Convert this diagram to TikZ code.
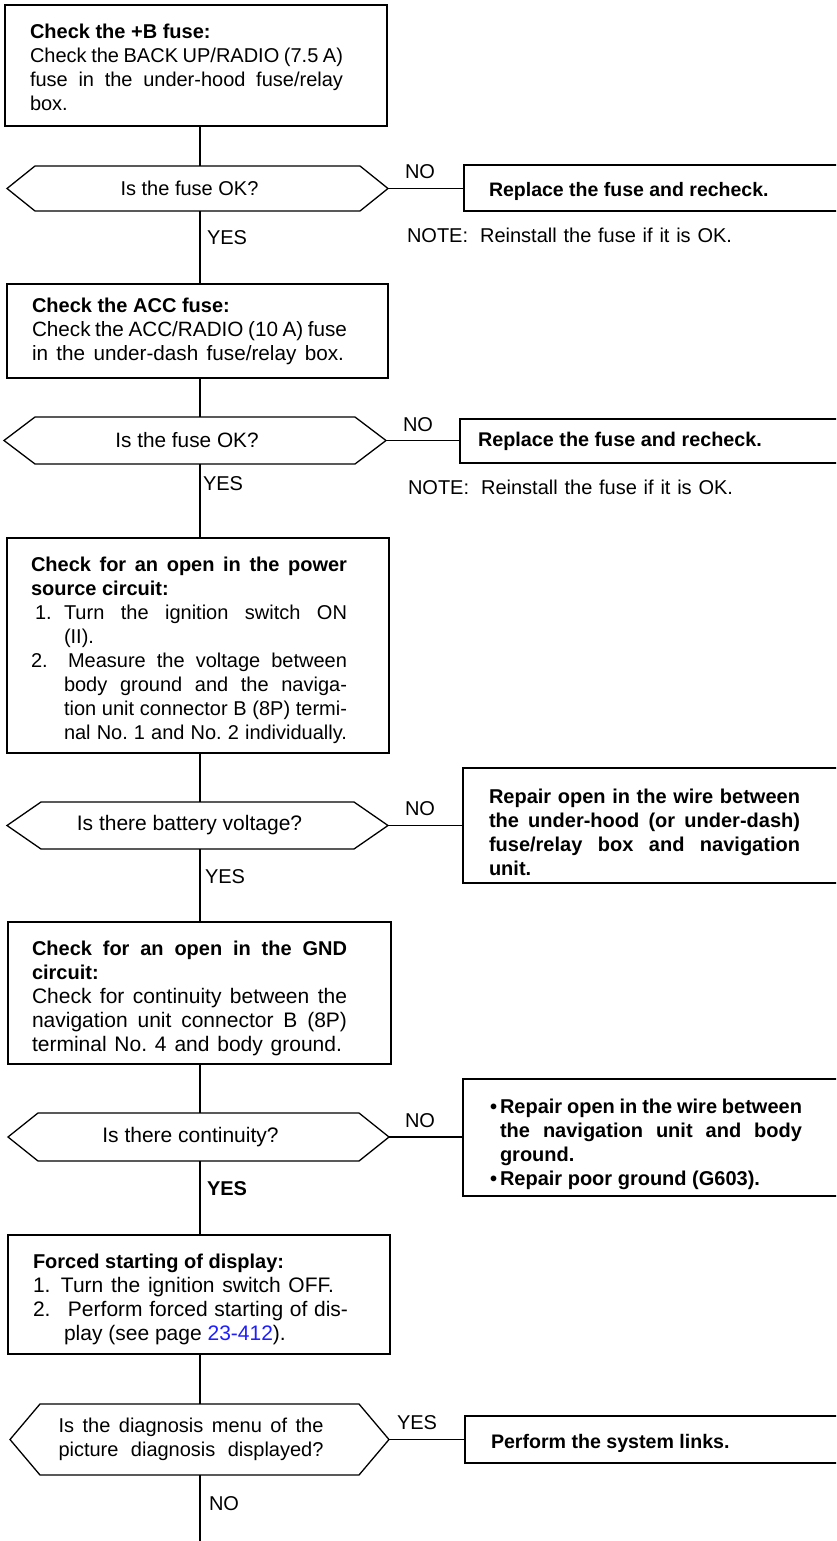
\documentclass[tikz,border=0pt]{standalone}
\usepackage{fontspec}
\setmainfont{Liberation Sans}
\usetikzlibrary{calc}
\setlength{\parindent}{0pt}
\frenchspacing
\definecolor{linkblue}{RGB}{30,30,255}
\newcommand\jl[2]{{\spaceskip=0pt\xspaceskip=0pt\makebox[#1][s]{#2}}}
\newcommand\hd[1]{{\fontsize{20}{24}\selectfont\bfseries #1}}
\newcommand\lift[1]{\rule{0pt}{#1}}
\newcommand\hexdraw[2]{\draw[outline] (#1.west) -- ([xshift=#2]#1.north west) -- ([xshift=-#2]#1.north east) -- (#1.east) -- ([xshift=-#2]#1.south east) -- ([xshift=#2]#1.south west) -- cycle;}
\begin{document}
\begin{tikzpicture}[x=1pt,y=-1pt,
  every node/.style={font=\fontsize{20}{24}\selectfont, inner sep=0pt, outer sep=0pt},
  fsz/.style={font=\fontsize{#1}{24}\selectfont},
  outline/.style={line width=1.3pt, line join=miter},
  conn/.style={line width=1.2pt},
  stepbox/.style={draw, line width=1.3pt, anchor=north west, align=flush left},
  rbox/.style={stepbox, font=\fontsize{20}{24}\selectfont\bfseries},
  decision/.style={anchor=north west, align=center},
  lbl/.style={anchor=west},
]
\useasboundingbox (0,0) rectangle (836,1541);
\fill[white] (0,0) rectangle (836,1541);
\clip (0,0) rectangle (836,1541);

% ---------- left column boxes ----------
\node[stepbox, text width=332pt, inner xsep=25pt, minimum height=121pt] (B1) at (5,5)
 {\lift{19pt}\hd{Check the +B fuse:}\\
  \jl{313pt}{Check the BACK UP/RADIO (7.5 A)}\\
  \jl{313pt}{fuse in the under-hood fuse/relay}\\
  box.};

\node[decision, minimum width=381pt, minimum height=45pt] (D1) at (7,166)
 {Is the fuse OK?\hspace*{16pt}};
\hexdraw{D1}{28pt}

\node[stepbox, fsz=20.7, text width=331pt, inner xsep=25pt, minimum height=94pt] (B2) at (7,284)
 {\hd{Check the ACC fuse:}\\
  \jl{315pt}{Check the ACC/RADIO (10 A) fuse}\\
  \jl{312pt}{in the under-dash fuse/relay box.}};

\node[decision, fsz=20.8, minimum width=382pt, minimum height=47pt] (D2) at (4,417)
 {Is the fuse OK?\hspace*{16pt}};
\hexdraw{D2}{31pt}

\node[stepbox, text width=334pt, inner xsep=24pt, minimum height=215pt] (B3) at (7,538)
 {\lift{25pt}\jl{316pt}{\textbf{Check for an open in the power}}\\
  \textbf{source circuit:}\\
  \makebox[33pt][l]{\hspace*{4pt}1.}\jl{283pt}{Turn the ignition switch ON}\\
  \hspace*{33pt}(II).\\
  \makebox[37pt][l]{2.}\jl{279pt}{Measure the voltage between}\\
  \hspace*{33pt}\jl{283pt}{body ground and the naviga-}\\
  \hspace*{33pt}\jl{283pt}{tion unit connector B (8P) termi-}\\
  \hspace*{33pt}\jl{283pt}{nal No. 1 and No. 2 individually.}};

\node[decision, fsz=21, minimum width=381pt, minimum height=47pt] (D3) at (7,802)
 {Is there battery voltage?\hspace*{16pt}};
\hexdraw{D3}{34pt}

\node[stepbox, fsz=21, text width=335pt, inner xsep=24pt, minimum height=142pt] (B4) at (8,922)
 {\lift{26pt}\jl{315pt}{\hd{Check for an open in the GND}}\\
  \hd{circuit:}\\
  \jl{315pt}{Check for continuity between the}\\
  \jl{315pt}{navigation unit connector B (8P)}\\
  \jl{310pt}{terminal No. 4 and body ground.}};

\node[decision, fsz=21, minimum width=381pt, minimum height=48pt] (D4) at (8,1113)
 {Is there continuity?\hspace*{16pt}};
\hexdraw{D4}{30pt}

\node[stepbox, fsz=21, text width=332pt, inner xsep=25pt, minimum height=119pt] (B5) at (8,1235)
 {\lift{25pt}\hd{Forced starting of display:}\\
  \makebox[28pt][l]{1.}\jl{273pt}{Turn the ignition switch OFF.}\\
  \makebox[35pt][l]{2.}\jl{280pt}{Perform forced starting of dis-}\\
  \hspace*{31pt}play (see page \textcolor{linkblue}{23-412}).};

\node[decision, minimum width=379pt, minimum height=71pt] (D5) at (10,1404)
 {\jl{265pt}{Is the diagnosis menu of the}\hspace*{17pt}\\
  \jl{265pt}{picture diagnosis displayed?}\hspace*{17pt}};
\hexdraw{D5}{30pt}

% ---------- right column boxes ----------
\node[rbox, font=\fontsize{19.5}{24}\selectfont\bfseries, text width=370pt, inner xsep=25pt, minimum height=46pt] (R1) at (464,165)
 {\lift{21pt}Replace the fuse and recheck.};
\node[rbox, font=\fontsize{19.8}{24}\selectfont\bfseries, text width=384pt, inner xsep=18pt, minimum height=44pt] (R2) at (460,419)
 {Replace the fuse and recheck.};
\node[rbox, text width=368pt, inner xsep=26pt, minimum height=115pt] (R3) at (463,768)
 {\lift{29pt}\jl{311pt}{Repair open in the wire between}\\
  \jl{311pt}{the under-hood (or under-dash)}\\
  \jl{311pt}{fuse/relay box and navigation}\\
  unit.};
\node[rbox, text width=346pt, inner xsep=37pt, minimum height=117pt] (R4) at (463,1079)
 {\lift{28pt}\mbox{\llap{\textbullet\hspace{3pt}}\jl{302pt}{Repair open in the wire between}}\\
  \jl{302pt}{the navigation unit and body}\\
  ground.\\
  \mbox{\llap{\textbullet\hspace{3pt}}Repair poor ground (G603).}};
\node[rbox, font=\fontsize{19.6}{24}\selectfont\bfseries, text width=368pt, inner xsep=26pt, minimum height=47pt] (R5) at (465,1416)
 {\lift{22pt}Perform the system links.};

% ---------- notes ----------
\node[lbl] (N1) at (407,235) {\jl{325pt}{NOTE:\hspace{12pt}Reinstall the fuse if it is OK.}};
\node[lbl] (N2) at (408,487) {\jl{325pt}{NOTE:\hspace{12pt}Reinstall the fuse if it is OK.}};

% ---------- connectors ----------
\coordinate (X) at (200,0);
\coordinate (E) at (200,1541);
\draw[conn] (B1.south -| X) -- (D1.north -| X);
\draw[conn] (D1.south -| X) -- (B2.north -| X);
\draw[conn] (B2.south -| X) -- (D2.north -| X);
\draw[conn] (D2.south -| X) -- (B3.north -| X);
\draw[conn] (B3.south -| X) -- (D3.north -| X);
\draw[conn] (D3.south -| X) -- (B4.north -| X);
\draw[conn] (B4.south -| X) -- (D4.north -| X);
\draw[conn] (D4.south -| X) -- (B5.north -| X);
\draw[conn] (B5.south -| X) -- (D5.north -| X);
\draw[conn] (D5.south -| X) -- (E);

\draw[conn] (D1.east) -- (D1.east -| R1.west);
\draw[conn] (D2.east) -- (D2.east -| R2.west);
\draw[conn] (D3.east) -- (D3.east -| R3.west);
\draw[conn] (D4.east) -- (D4.east -| R4.west);
\draw[conn] (D5.east) -- (D5.east -| R5.west);

% ---------- branch labels ----------
\node[lbl] (no1) at (405,172) {NO};
\node[lbl] (yes1) at (207,238) {YES};
\node[lbl] (no2) at (403,425) {NO};
\node[lbl] (yes2) at (203,484) {YES};
\node[lbl] (no3) at (405,809) {NO};
\node[lbl] (yes3) at (205,877) {YES};
\node[lbl] (no4) at (405,1121) {NO};
\node[lbl, font=\fontsize{20}{24}\selectfont\bfseries] (yes4) at (207,1189) {YES};
\node[lbl] (yes5) at (397,1423) {YES};
\node[lbl] (no5) at (209,1504) {NO};
\end{tikzpicture}
\end{document}
